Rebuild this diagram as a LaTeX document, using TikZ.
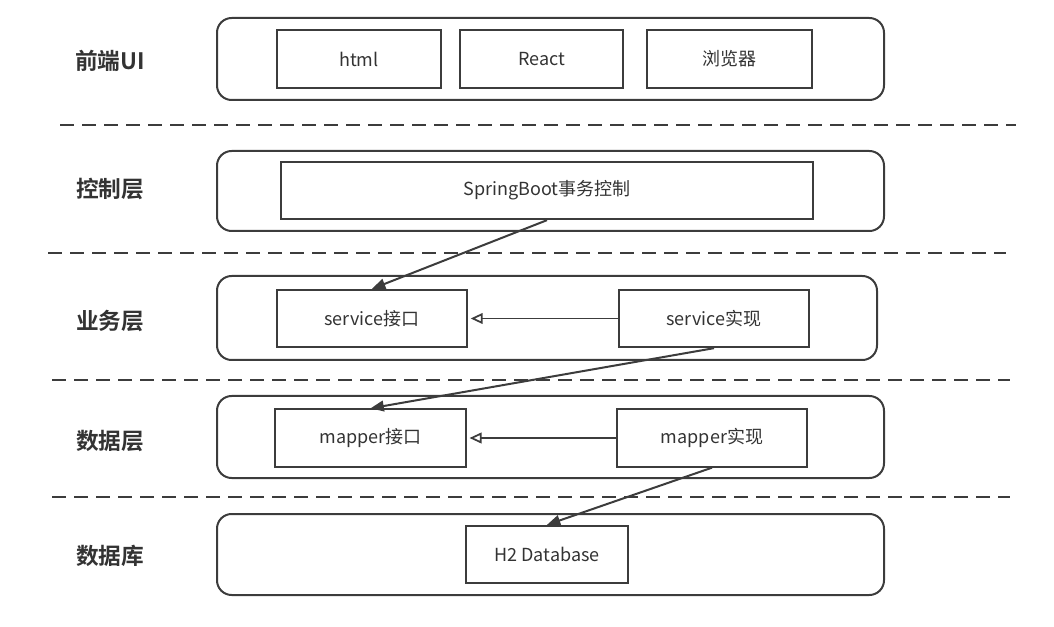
\documentclass[tikz,border=0pt]{standalone}
\usepackage{fontspec}
\setmainfont{Noto Sans CJK SC}[BoldFont={Noto Sans CJK SC Bold}]
\usetikzlibrary{arrows.meta}
\definecolor{linec}{HTML}{3C3C3C}
\definecolor{textc}{HTML}{333333}

\tikzset{
  layer/.style={draw=linec, line width=1.5pt, rounded corners=11pt},
  box/.style={draw=linec, line width=1.5pt, minimum height=43pt, inner sep=0pt,
    text=textc, font=\fontsize{13.5}{16}\selectfont},
  title/.style={text=textc, font=\fontsize{17}{20}\selectfont\bfseries},
  sep/.style={draw=linec, line width=1.5pt, dash pattern=on 10.5pt off 6pt},
  flow/.style={draw=linec, line width=1.5pt, -{Triangle[length=10pt,width=8pt]}},
  impl/.style={draw=linec, line width=1.3pt, -{Triangle[open,length=9pt,width=8pt]}}
}

\begin{document}
\begin{tikzpicture}[x=0.75pt, y=-0.75pt]
  \useasboundingbox (0,0) rectangle (1054,627);
  % layers
  \draw [layer] (217,18) rectangle (884,100);
  \draw [layer] (217,151) rectangle (884,231);
  \draw [layer] (217,276) rectangle (877,360);
  \draw [layer] (217,396) rectangle (884,478);
  \draw [layer] (217,514) rectangle (884,595);
  % separators
  \draw [sep] (60,125) -- (1016,125);
  \draw [sep] (48,253) -- (1006,253);
  \draw [sep] (52,380) -- (1010,380);
  \draw [sep] (52,497) -- (1010,497);
  % titles
  \node [title] (tui) at (110,61) {前端UI};
  \node [title] (tctl) at (110,189) {控制层};
  \node [title] (tsvc) at (110,321) {业务层};
  \node [title] (tdat) at (110,441) {数据层};
  \node [title] (tdb) at (110,556) {数据库};
  % boxes
  \node [box, minimum width=123pt] (html) at (359,59) {html};
  \node [box, minimum width=122pt] (react) at (541.5,59) {React};
  \node [box, minimum width=124pt] (browser) at (729.5,59) {浏览器};
  \node [box, minimum width=399pt] (spring) at (547,190.5) {SpringBoot事务控制};
  \node [box, minimum width=142.5pt] (svcif) at (372,318.5) {service接口};
  \node [box, minimum width=142.5pt] (svcimpl) at (714,318.5) {service实现};
  \node [box, minimum width=143pt] (mapif) at (370.5,438) {mapper接口};
  \node [box, minimum width=143pt] (mapimpl) at (712,438) {mapper实现};
  \node [box, minimum width=121.5pt] (h2) at (547,554.5) {H2 Database};
  % connectors
  \draw [flow] (spring.south) -- (svcif.north);
  \draw [impl] (svcimpl.west) -- ([xshift=2pt]svcif.east);
  \draw [flow] (svcimpl.south) -- (mapif.north);
  \draw [impl] (mapimpl.west) -- ([xshift=2pt]mapif.east);
  \draw [flow] (mapimpl.south) -- (h2.north);
\end{tikzpicture}
\end{document}
